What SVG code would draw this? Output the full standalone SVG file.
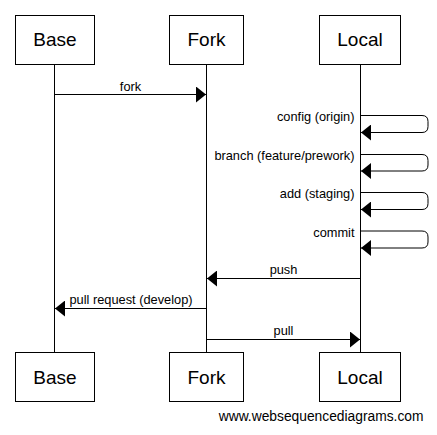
<svg xmlns="http://www.w3.org/2000/svg" width="437" height="435" viewBox="0 0 437 435">
<style>
.box{fill:#fff;stroke:#000;stroke-width:1}
.life{stroke:#000;stroke-width:1;fill:none}
.msg{stroke:#000;stroke-width:1;fill:none;marker-end:url(#ah)}
.nl{font-family:"Liberation Sans",Arial,sans-serif;font-size:19px;fill:#000;text-anchor:middle}
.ml{font-family:"Liberation Sans",Arial,sans-serif;font-size:12.8px;fill:#000;text-anchor:middle}
.sl{font-family:"Liberation Sans",Arial,sans-serif;font-size:12.8px;fill:#000;text-anchor:end}
.wm{font-family:"Liberation Sans",Arial,sans-serif;font-size:13.8px;fill:#000;text-anchor:end}
</style>
<defs>
<marker id="ah" viewBox="0 0 10 16" refX="10" refY="8" markerWidth="10" markerHeight="16" orient="auto" markerUnits="userSpaceOnUse">
<path d="M0,0 L10,8 L0,16 Z" fill="#000"/>
</marker>
</defs>
<rect width="437" height="435" fill="#fff"/>
<g id="lifelines">
<line class="life" x1="54.5" y1="64" x2="54.5" y2="353"/>
<line class="life" x1="206.5" y1="64" x2="206.5" y2="353"/>
<line class="life" x1="360.5" y1="64" x2="360.5" y2="353"/>
</g>
<g id="connectors">
<line class="msg" x1="54.5" y1="94.5" x2="206" y2="94.5"/>
<text class="ml" x="130.5" y="90.5">fork</text>
<path class="msg" d="M360.5,115.5 H422 Q428,115.5 428,121.5 V126.5 Q428,132.5 422,132.5 H361"/>
<text class="sl" x="354.5" y="121.2">config (origin)</text>
<path class="msg" d="M360.5,154.5 H422 Q428,154.5 428,160.5 V165 Q428,171 422,171 H361"/>
<text class="sl" x="354.5" y="160">branch (feature/prework)</text>
<path class="msg" d="M360.5,192.5 H422 Q428,192.5 428,198.5 V203.5 Q428,209.5 422,209.5 H361"/>
<text class="sl" x="354.5" y="198.3">add (staging)</text>
<path class="msg" d="M360.5,231 H422 Q428,231 428,237 V242 Q428,248 422,248 H361"/>
<text class="sl" x="354.5" y="236.6">commit</text>
<line class="msg" x1="360.5" y1="278.5" x2="207" y2="278.5"/>
<text class="ml" x="283.5" y="274.3">push</text>
<line class="msg" x1="206.5" y1="308.5" x2="55" y2="308.5"/>
<text class="ml" x="131" y="304.3">pull request (develop)</text>
<line class="msg" x1="206.5" y1="339.5" x2="360" y2="339.5"/>
<text class="ml" x="283.5" y="335.2">pull</text>
</g>
<g id="base-top"><rect class="box" x="15.5" y="15.5" width="79" height="49"/><text class="nl" x="55" y="46">Base</text></g>
<g id="fork-top"><rect class="box" x="169.5" y="15.5" width="74" height="49"/><text class="nl" x="206.5" y="46">Fork</text></g>
<g id="local-top"><rect class="box" x="319.5" y="15.5" width="81" height="49"/><text class="nl" x="360" y="46">Local</text></g>
<g id="base-bottom"><rect class="box" x="15.5" y="352.5" width="79" height="49"/><text class="nl" x="55" y="383.5">Base</text></g>
<g id="fork-bottom"><rect class="box" x="169.5" y="352.5" width="74" height="49"/><text class="nl" x="206.5" y="383.5">Fork</text></g>
<g id="local-bottom"><rect class="box" x="319.5" y="352.5" width="81" height="49"/><text class="nl" x="360" y="383.5">Local</text></g>
<text class="wm" x="423.5" y="421">www.websequencediagrams.com</text>
</svg>
